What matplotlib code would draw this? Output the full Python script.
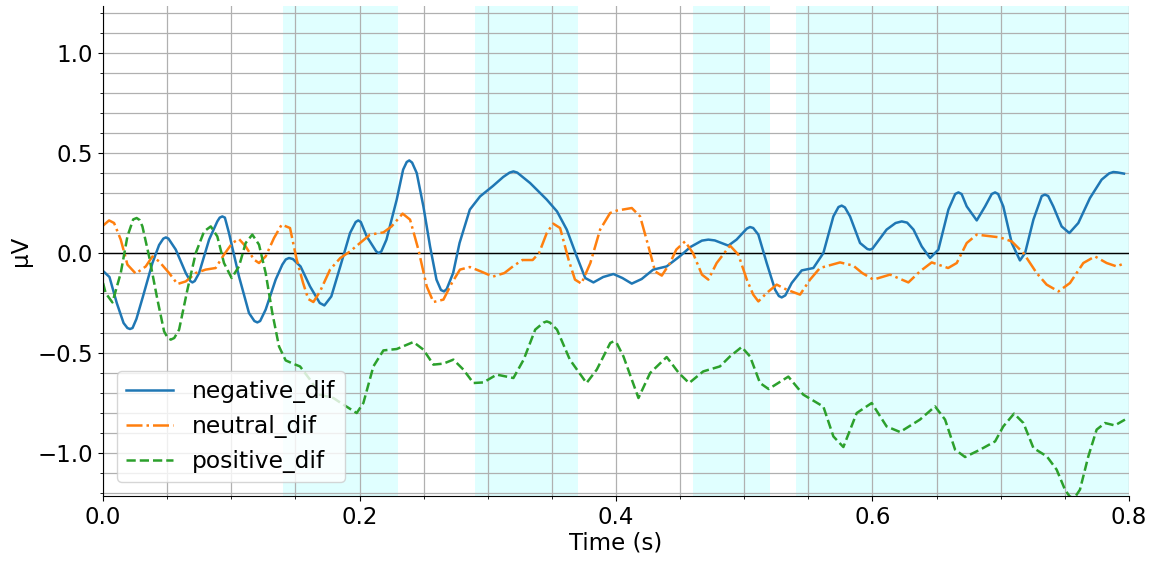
import matplotlib
matplotlib.use('Agg')
import matplotlib.pyplot as plt
from matplotlib.ticker import MultipleLocator

# negative_dif
t_neg = [0, .005, .0107, .016, .019, .021, .023, .026, .031, .0385, .0437, .047, .049, .051, .0567, .0645,
         .068, .0697, .0715, .0749, .0827, .0891, .091, .093, .095, .0982, .106, .1138, .118, .1203, .1225,
         .1268, .1346, .1398, .1425, .145, .148, .154, .1614, .169, .1726, .178, .185, .1926, .197, .199,
         .201, .2056, .213, .215, .217, .221, .229, .234, .2368, .2388, .241, .2446, .2498, .255, .260,
         .2635, .2659, .268, .273, .278, .286, .294, .304, .312, .317, .320, .323, .333, .346, .354, .3616,
         .3694, .376, .3824, .390, .398, .405, .4123, .420, .429, .4395, .450, .458, .467, .472, .477, .4876,
         .494, .502, .5045, .507, .511, .5175, .524, .527, .5292, .532, .537, .5448, .5539, .5617, .5695,
         .5735, .576, .5785, .5825, .5903, .596, .598, .600, .611, .618, .6228, .627, .632, .6384, .6449,
         .6514, .6592, .6645, .667, .6695, .6735, .6813, .6878, .693, .6956, .698, .702, .7086, .715, .719,
         .7255, .732, .7345, .737, .741, .7475, .7535, .7605, .7696, .7787, .7845, .7878, .791, .7961]
v_neg = [-0.09, -0.12, -0.25, -0.35, -0.375, -0.38, -0.375, -0.33, -0.22, -0.05, .04, .072, .078, .072, .017, -0.10,
         -0.14, -0.147, -0.14, -0.10, .067, .158, .177, .183, .177, .10, -0.117, -0.30, -0.34, -0.347, -0.34,
         -0.283, -0.133, -0.058, -0.032, -0.025, -0.03, -0.067, -0.167, -0.25, -0.262, -0.217, -0.067, .10, .155, .163,
         .155, .083, .008, .0, .008, .067, .267, .417, .455, .463, .452, .40, .233, .033, -0.133,
         -0.185, -0.192, -0.18, -0.10, .05, .217, .283, .335, .38, .402, .408, .402, .35, .267, .208, .117,
         -0.017, -0.125, -0.147, -0.12, -0.105, -0.125, -0.153, -0.13, -0.083, -0.067, -0.015, .03, .062, .067, .063, .037,
         .067, .122, .13, .125, .092, -0.05, -0.183, -0.215, -0.222, -0.212, -0.15, -0.087, -0.075, 0.0, .183,
         .23, .237, .228, .183, .05, .02, .017, .022, .117, .15, .158, .152, .117, .033, -0.025,
         .017, .217, .295, .303, .295, .233, .163, .233, .295, .303, .295, .233, .05, -0.037, 0.0,
         .167, .285, .292, .285, .233, .133, .10, .15, .275, .367, .398, .405, .403, .397]

# neutral_dif
t_neu = [0, .0047, .0086, .0138, .019, .0255, .0333, .0385, .0437, .0515, .058, .0645, .0723, .080,
         .0878, .0943, .1008, .106, .1112, .1177, .1216, .1268, .1333, .1393, .1458, .151, .156, .160,
         .164, .1692, .177, .185, .1926, .2004, .2082, .2186, .225, .2336, .2394, .2459, .2524, .2576,
         .2654, .272, .2783, .286, .295, .304, .313, .320, .327, .335, .340, .346, .351, .3564, .363, .368,
         .373, .380, .3876, .3954, .4006, .4123, .4188, .4253, .4305, .4357, .4421, .447, .4538, .460,
         .467, .472, .4785, .4889, .4954, .502, .507, .511, .5175, .5253, .533, .5435, .5513, .559,
         .5747, .585, .592, .6007, .6137, .628, .637, .6462, .659, .6657, .6735, .6813, .6995, .7086,
         .7177, .728, .7358, .745, .754, .7644, .7735, .7826, .7904, .797]
v_neu = [.137, .163, .15, .067, -0.058, -0.103, -0.067, -0.017, -0.042, -0.10, -0.155, -0.142, -0.10, -0.083,
         -0.075, -0.008, .05, .07, .033, -0.033, -0.05, -0.017, .075, .142, .125, -0.033, -0.15, -0.23,
         -0.245, -0.192, -0.083, -0.025, .008, .05, .092, .103, .133, .197, .167, .017, -0.167, -0.245,
         -0.233, -0.15, -0.083, -0.07, -0.093, -0.118, -0.10, -0.065, -0.035, -0.035, 0.0, .10, .147, .125, -0.033, -0.133,
         -0.153, -0.05, .117, .20, .212, .225, .183, .033, -0.092, -0.113, -0.05, .017, .058, 0.0,
         -0.108, -0.133, -0.05, .037, -0.008, -0.133, -0.208, -0.242, -0.20, -0.158, -0.183, -0.208, -0.133, -0.075,
         -0.047, -0.063, -0.10, -0.133, -0.108, -0.147, -0.092, -0.047, -0.075, -0.05, .05, .092, .078, .058,
         0.0, -0.10, -0.158, -0.192, -0.15, -0.05, -0.017, -0.05, -0.067, -0.05]

# positive_dif
t_pos = [0, .002, .0073, .0138, .019, .0235, .0262, .0285, .0307, .0359, .0424, .0476, .0505, .0528, .0555,
         .0593, .0658, .0723, .0788, .084, .0891, .0943, .1003, .106, .1112, .1164, .1216, .1268, .132,
         .1372, .1424, .150, .1536, .1614, .169, .1796, .1874, .1978, .203, .2108, .2186, .229, .242,
         .2498, .2576, .2654, .2732, .281, .2888, .2966, .307, .320, .328, .337, .3435, .346, .3485, .354,
         .364, .377, .385, .3955, .398, .4005, .4058, .4175, .4266, .4395, .449, .457, .468, .481, .4889,
         .498, .5045, .5123, .519, .5344, .546, .5617, .5695, .5773, .5877, .5994, .611, .6215, .637,
         .6488, .6566, .6644, .6722, .684, .6956, .702, .7104, .7177, .7255, .736, .7436, .7501, .7535,
         .756, .7585, .7618, .7683, .7748, .7813, .789, .7969]
v_pos = [-0.15, -0.20, -0.247, -0.10, .083, .168, .175, .165, .133, -0.017, -0.233, -0.392, -0.425, -0.433, -0.425,
         -0.383, -0.183, 0.0, .108, .133, .083, -0.05, -0.125, -0.067, .05, .092, .042, -0.10, -0.30,
         -0.467, -0.537, -0.558, -0.567, -0.633, -0.708, -0.725, -0.758, -0.80, -0.75, -0.567, -0.487, -0.48, -0.445,
         -0.483, -0.558, -0.553, -0.533, -0.583, -0.65, -0.647, -0.608, -0.625, -0.533, -0.383, -0.348, -0.342, -0.348, -0.383,
         -0.533, -0.65, -0.583, -0.45, -0.442, -0.45, -0.517, -0.725, -0.60, -0.52, -0.60, -0.65, -0.592, -0.567, -0.517,
         -0.47, -0.517, -0.65, -0.68, -0.618, -0.708, -0.768, -0.917, -0.97, -0.80, -0.75, -0.867, -0.895, -0.833,
         -0.767, -0.833, -0.983, -1.02, -0.983, -0.942, -0.867, -0.803, -0.85, -0.975, -1.017, -1.083, -1.183, -1.215,
         -1.225, -1.215, -1.183, -1.017, -0.883, -0.85, -0.862, -0.833]

# significant time windows
spans = [(0.14, 0.23), (0.29, 0.37), (0.46, 0.52), (0.54, 0.80)]

fig = plt.figure(figsize=(11.54, 5.62), dpi=100)
ax = fig.add_axes([0.0893, 0.1174, 0.889, 0.8719])

for a, b in spans:
    ax.axvspan(a, b, color='lightcyan', lw=0, zorder=0)

ax.plot(t_neg, v_neg, color='#1f77b4', ls='-', lw=1.8, label='negative_dif')
ax.plot(t_neu, v_neu, color='#ff7f0e', ls='-.', lw=1.8, label='neutral_dif')
ax.plot(t_pos, v_pos, color='#2ca02c', ls='--', lw=1.8, label='positive_dif')
ax.axhline(0, color='k', lw=1, zorder=1.8)

ax.set_xlim(0, 0.8)
ax.set_ylim(-1.215, 1.235)
ax.xaxis.set_major_locator(MultipleLocator(0.2))
ax.xaxis.set_minor_locator(MultipleLocator(0.05))
ax.yaxis.set_major_locator(MultipleLocator(0.5))
ax.yaxis.set_minor_locator(MultipleLocator(0.1))
ax.grid(True, which='both', color='#b0b0b0', lw=0.9)
ax.spines['top'].set_visible(False)
ax.spines['right'].set_visible(False)
ax.tick_params(labelsize=16.5)

ax.set_xlabel('Time (s)', fontsize=16.5, labelpad=2)
ax.set_ylabel('μV', fontsize=16.5)
ax.legend(loc='lower left', fontsize=16.8, borderaxespad=0.6)

fig.savefig('out.png', dpi=100)
